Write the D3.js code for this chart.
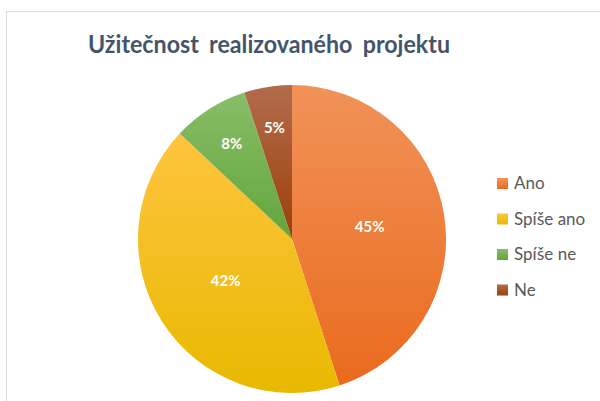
<!doctype html>
<html lang="cs">
<head>
<meta charset="UTF-8">
<title>Užitečnost realizovaného projektu</title>
<script src="https://d3js.org/d3.v7.min.js"></script>
<style>
  body { margin: 0; background: #fff; }
</style>
</head>
<body>
<div id="chart-area"></div>
<script>
const categories = ['Ano', 'Spíše ano', 'Spíše ne', 'Ne'];
const shares = [45, 42, 8, 5];
const topColors = ['#f19259', '#fec43f', '#88bd68', '#b26c4c'];
const bottomColors = ['#ea6a1d', '#e8b900', '#63a63a', '#9b3f0b'];

const W = 600, H = 401;
const cx = 292, cy = 239, r = 154;

const svg = d3.select('#chart-area').append('svg')
    .attr('width', W)
    .attr('height', H);

// chart frame (only top/left edges visible)
svg.append('rect')
    .attr('x', 6.5).attr('y', 11.5)
    .attr('width', W + 20).attr('height', H + 20)
    .attr('fill', '#fff')
    .attr('stroke', '#d5dce5');

const defs = svg.append('defs');
topColors.forEach((c, i) => {
    const gr = defs.append('linearGradient')
        .attr('id', 'grad' + i)
        .attr('x1', 0).attr('y1', 0).attr('x2', 0).attr('y2', 1);
    gr.append('stop').attr('offset', '0%').attr('stop-color', c);
    gr.append('stop').attr('offset', '100%').attr('stop-color', bottomColors[i]);
});

svg.append('text')
    .attr('x', 269).attr('y', 53)
    .attr('text-anchor', 'middle')
    .attr('font-family', 'Lato, "Open Sans", sans-serif')
    .attr('font-weight', 'bold')
    .attr('font-size', '25px')
    .attr('word-spacing', '5px')
    .attr('fill', '#44546a')
    .attr('textLength', 362)
    .attr('lengthAdjust', 'spacingAndGlyphs')
    .text('Užitečnost realizovaného projektu');

const pie = d3.pie().sort(null).value(d => d)(shares);
const arc = d3.arc().innerRadius(0).outerRadius(r);

const g = svg.append('g').attr('transform', `translate(${cx},${cy})`);

g.selectAll('path.slice').data(pie).enter().append('path')
    .attr('class', 'slice')
    .attr('d', arc)
    .attr('fill', (d, i) => `url(#grad${i})`);

// best-fit style labels: small slices pushed outward
g.selectAll('text.lbl').data(pie).enter().append('text')
    .attr('class', 'lbl')
    .attr('transform', d => {
        const rr = d.data >= 20 ? r * 0.51 : r * 0.73;
        const a = (d.startAngle + d.endAngle) / 2;
        return `translate(${Math.sin(a) * rr},${-Math.cos(a) * rr})`;
    })
    .attr('text-anchor', 'middle')
    .attr('dy', '0.36em')
    .attr('font-family', 'Lato, "Open Sans", sans-serif')
    .attr('font-weight', 'bold')
    .attr('font-size', '15px')
    .attr('fill', '#fff')
    .text(d => d.data + '%');

const leg = svg.append('g').attr('transform', 'translate(497,178)');
const rows = leg.selectAll('g').data(categories).enter().append('g')
    .attr('transform', (d, i) => `translate(0,${i * 35.5})`);
rows.append('rect')
    .attr('width', 11).attr('height', 11)
    .attr('fill', (d, i) => `url(#grad${i})`);
rows.append('text')
    .attr('x', 17).attr('y', 11)
    .attr('font-family', 'Lato, "Open Sans", sans-serif')
    .attr('font-size', '17px')
    .attr('fill', '#595959')
    .text(d => d);
</script>
</body>
</html>
